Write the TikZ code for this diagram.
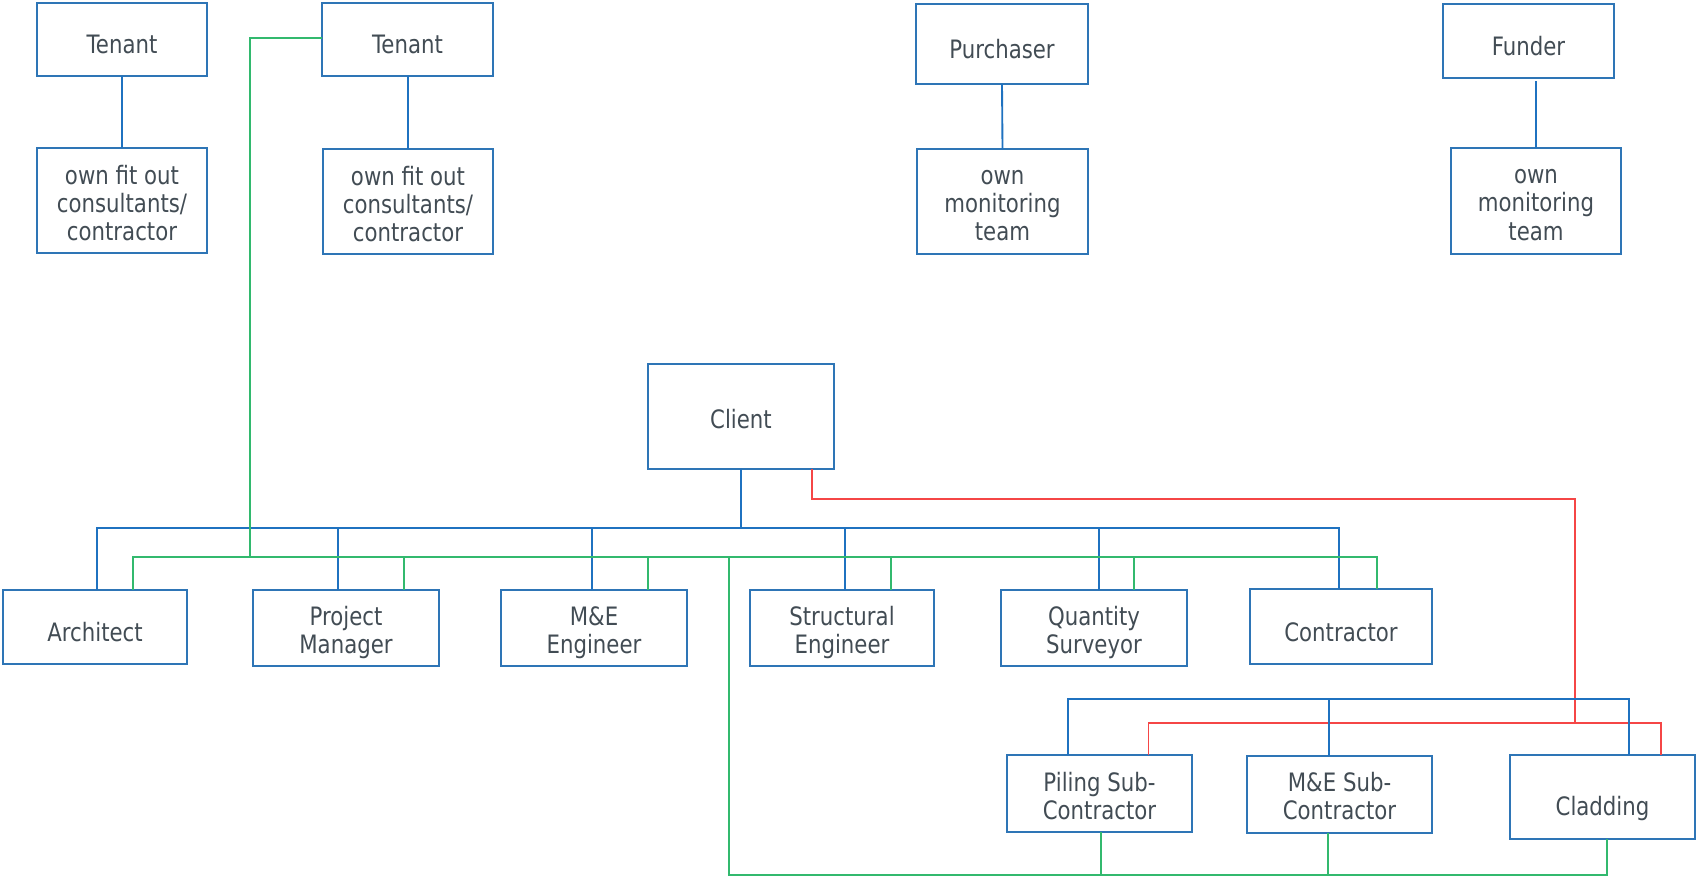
\documentclass[tikz,border=0pt]{standalone}
\usepackage{fontspec}
\setmainfont{DejaVu Sans}[FakeStretch=0.84]
\usetikzlibrary{calc}
\definecolor{boxblue}{RGB}{46,117,182}
\definecolor{lineblue}{RGB}{31,114,192}
\definecolor{lgreen}{RGB}{50,185,110}
\definecolor{lred}{RGB}{245,70,70}
\definecolor{txt}{RGB}{66,76,84}
\begin{document}
\begin{tikzpicture}[x=0.75pt,y=-0.75pt,
  box/.style={draw=boxblue,line width=1.5pt,inner sep=0pt,outer sep=0pt},
  lbl/.style={inner sep=0pt,align=center,text=txt,font=\fontsize{19}{21.2}\selectfont},
  bl/.style={draw=lineblue,line width=1.4pt},
  gl/.style={draw=lgreen,line width=1.4pt},
  rl/.style={draw=lred,line width=1.4pt}]
\useasboundingbox (0,0) rectangle (1696,880);
\newcommand\mybox[7]{%
  \pgfmathsetmacro\cxx{(#2+#4)/2}\pgfmathsetmacro\cyy{(#3+#5)/2}%
  \pgfmathsetmacro\ww{(#4-#2)*0.75}\pgfmathsetmacro\hh{(#5-#3)*0.75}%
  \node[box,minimum width=\ww pt,minimum height=\hh pt] (#1) at (\cxx,\cyy) {};
  \node[lbl] (#1-t) at ($(#1.center)+(0,#7)$) {#6};}
% top row
\mybox{t1}{37}{3}{207}{76}{Tenant}{5}
\mybox{f1}{37}{148}{207}{253}{own fit out\\consultants/\\contractor}{2.5}
\mybox{t2}{322}{3}{493}{76}{Tenant}{5}
\mybox{f2}{323}{149}{493}{254}{own fit out\\consultants/\\contractor}{2.5}
\mybox{pur}{916}{4}{1088}{84}{Purchaser}{5}
\mybox{m1}{917}{149}{1088}{254}{own\\monitoring\\team}{4}
\mybox{fund}{1443}{4}{1614}{78}{Funder}{5}
\mybox{m2}{1451}{148}{1621}{254}{own\\monitoring\\team}{4}
% client
\mybox{client}{648}{364}{834}{469}{Client}{3}
% consultants row
\mybox{arch}{3}{590}{187}{664}{Architect}{5.5}
\mybox{pm}{253}{590}{439}{666}{Project\\Manager}{4.5}
\mybox{me}{501}{590}{687}{666}{M\&E\\Engineer}{4.5}
\mybox{se}{750}{590}{934}{666}{Structural\\Engineer}{4.5}
\mybox{qs}{1001}{590}{1187}{666}{Quantity\\Surveyor}{4.5}
\mybox{con}{1250}{589}{1432}{664}{Contractor}{6}
% sub-contractors
\mybox{pil}{1007}{755}{1192}{832}{Piling Sub-\\Contractor}{2.5}
\mybox{mes}{1247}{756}{1432}{833}{M\&E Sub-\\Contractor}{1.5}
\mybox{clad}{1510}{755}{1695}{839}{Cladding}{12}
% coordinates
\coordinate (fundlow) at (1536,81);
\coordinate (bus1L) at (97,528);
\coordinate (bus1R) at (1339,528);
\coordinate (gbusR) at (1377,557);
\coordinate (gcorner) at (250,557);
\coordinate (glongtop) at (729,557);
\coordinate (gbot) at (729,875);
\coordinate (rcorner) at (1575,499);
\coordinate (rbus) at (1575,723);
% blue top connectors
\draw[bl] (t1.south) -- (f1.north);
\draw[bl] ($(t2.south west)+(86,0)$) -- ($(f2.north west)+(85,0)$);
\draw[bl] (pur.south) -- (m1.north);
\draw[bl] (m2.north) -- (fundlow);
% blue bus 1
\draw[bl] (client.south) -- (client.south |- bus1L);
\draw[bl] (bus1L |- arch.north) -- (bus1L) -- (bus1R) -- (bus1R |- con.north);
\draw[bl] ($(pm.north west)+(85,0)$) -- ($(pm.north west)+(85,-62)$);
\draw[bl] ($(me.north west)+(91,0)$) -- ($(me.north west)+(91,-62)$);
\draw[bl] ($(se.north west)+(95,0)$) -- ($(se.north west)+(95,-62)$);
\draw[bl] ($(qs.north west)+(98,0)$) -- ($(qs.north west)+(98,-62)$);
% green
\draw[gl] ($(t2.north west)+(0,35)$) -| (gcorner);
\draw[gl] ($(arch.north west)+(130,0)$) |- (gbusR) -- ($(con.north west)+(127,0)$);
\draw[gl] ($(pm.north west)+(151,0)$) -- ($(pm.north west)+(151,-33)$);
\draw[gl] ($(me.north west)+(147,0)$) -- ($(me.north west)+(147,-33)$);
\draw[gl] ($(se.north west)+(141,0)$) -- ($(se.north west)+(141,-33)$);
\draw[gl] ($(qs.north west)+(133,0)$) -- ($(qs.north west)+(133,-33)$);
\draw[gl] (glongtop) -- (gbot) -| ($(clad.south west)+(97,0)$);
\draw[gl] ($(pil.south west)+(94,0)$) -- ($(pil.south west)+(94,43)$);
\draw[gl] ($(mes.south west)+(81,0)$) -- ($(mes.south west)+(81,42)$);
% red
\draw[rl] ($(client.south west)+(164,0)$) |- (rcorner) -- (rbus);
\draw[rl] ($(pil.north west)+(141.5,0)$) |- ($(clad.north west)+(151,-32)$) -- ($(clad.north west)+(151,0)$);
% blue bus 2
\draw[bl] ($(pil.north west)+(61,0)$) |- ($(clad.north west)+(119,-56)$) -- ($(clad.north west)+(119,0)$);
\draw[bl] ($(mes.north west)+(82,0)$) -- ($(mes.north west)+(82,-57)$);
\end{tikzpicture}
\end{document}
